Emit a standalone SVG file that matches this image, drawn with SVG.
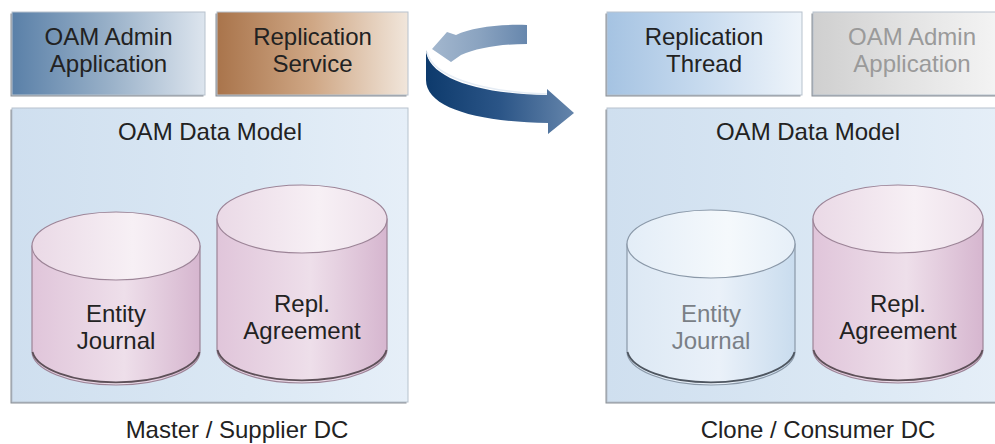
<svg xmlns="http://www.w3.org/2000/svg" width="995" height="444" viewBox="0 0 995 444">
<defs>
<linearGradient id="gAdmin" x1="0" y1="0" x2="1" y2="0"><stop offset="0" stop-color="#5a80a8"/><stop offset="0.5" stop-color="#98b0c8"/><stop offset="1" stop-color="#dde5ee"/></linearGradient>
<linearGradient id="gRepl" x1="0" y1="0" x2="1" y2="0"><stop offset="0" stop-color="#a9744b"/><stop offset="0.5" stop-color="#cfa785"/><stop offset="1" stop-color="#f1e6db"/></linearGradient>
<linearGradient id="gThread" x1="0" y1="0" x2="1" y2="0"><stop offset="0" stop-color="#a5c3e2"/><stop offset="0.5" stop-color="#c8dbef"/><stop offset="1" stop-color="#eef4fa"/></linearGradient>
<linearGradient id="gGray" x1="0" y1="0" x2="1" y2="0"><stop offset="0" stop-color="#cfcfcf"/><stop offset="0.5" stop-color="#e4e4e4"/><stop offset="1" stop-color="#f6f6f6"/></linearGradient>
<linearGradient id="gModel" x1="0" y1="0" x2="1" y2="0"><stop offset="0" stop-color="#cfdfef"/><stop offset="0.6" stop-color="#dbe8f4"/><stop offset="1" stop-color="#e6eff8"/></linearGradient>
<linearGradient id="gPinkBody" x1="0" y1="0" x2="1" y2="0"><stop offset="0" stop-color="#e0c5da"/><stop offset="0.55" stop-color="#eedfea"/><stop offset="1" stop-color="#d6b6cf"/></linearGradient>
<linearGradient id="gPinkTop" x1="0" y1="0" x2="1" y2="0"><stop offset="0" stop-color="#ead9e6"/><stop offset="0.6" stop-color="#f7f0f5"/><stop offset="1" stop-color="#eddfea"/></linearGradient>
<linearGradient id="gBlueBody" x1="0" y1="0" x2="1" y2="0"><stop offset="0" stop-color="#dce8f4"/><stop offset="0.55" stop-color="#eaf1f9"/><stop offset="1" stop-color="#c9dcee"/></linearGradient>
<linearGradient id="gBlueTop" x1="0" y1="0" x2="1" y2="0"><stop offset="0" stop-color="#e3edf7"/><stop offset="0.6" stop-color="#f5f9fc"/><stop offset="1" stop-color="#e6eff8"/></linearGradient>
<linearGradient id="gArrDark" x1="0" y1="0" x2="1" y2="0"><stop offset="0" stop-color="#0d3a6c"/><stop offset="0.5" stop-color="#2b5587"/><stop offset="1" stop-color="#6585ab"/></linearGradient>
<linearGradient id="gArrLight" x1="0" y1="0" x2="1" y2="0"><stop offset="0" stop-color="#a3b7ce"/><stop offset="0.5" stop-color="#8aa3c0"/><stop offset="1" stop-color="#6787ad"/></linearGradient>
</defs>
<style>
.t{font-family:"Liberation Sans",Arial,sans-serif;font-size:24px;fill:#222;text-anchor:middle}
.tg{fill:#9a9a9a}
.tj{fill:#7a7f86}
.sh{fill:#8a8f95}
.box{stroke:#b7c2cd;stroke-width:1}
.cylP{stroke:#9c8497;stroke-width:1.2}
.cylB{stroke:#8a98a8;stroke-width:1.2}
.base{fill:none;stroke:#5d5058;stroke-width:1.8}
</style>

<g id="arrow">
<path d="M527,25 C500,24 472,27 456,35 L447,32 L432,49 L451,62 L461,55 C477,48 500,44 527,44 Z" fill="url(#gArrLight)"/>
<path d="M426,50 C428,78 478,94 547,95 L547,89 L574,113 L548,134 L548,123 C478,122 426,108 426,80 Z" fill="url(#gArrDark)"/>
<path d="M427,52 C432,76 480,92 547,94" fill="none" stroke="#e6edf5" stroke-width="1.5"/>
</g>

<g id="admin-left">
<rect x="10.5" y="13.5" width="193" height="83" class="sh"/>
<rect x="12" y="12" width="193" height="83" fill="url(#gAdmin)" class="box"/>
<text class="t" x="108.5" y="45">OAM Admin</text>
<text class="t" x="108.5" y="72">Application</text>
</g>
<g id="replication-service">
<rect x="215.5" y="13.5" width="191" height="83" class="sh"/>
<rect x="217" y="12" width="191" height="83" fill="url(#gRepl)" class="box"/>
<text class="t" x="312.5" y="45">Replication</text>
<text class="t" x="312.5" y="72">Service</text>
</g>
<g id="model-left">
<rect x="10.5" y="109.5" width="396" height="294" class="sh"/>
<rect x="12" y="108" width="396" height="294" fill="url(#gModel)" class="box"/>
<text class="t" x="210" y="140">OAM Data Model</text>
</g>
<g id="entity-journal-left">
<path d="M32,246 L32,351 A84,34 0 0 0 200,351 L200,246 Z" fill="url(#gPinkBody)" class="cylP"/>
<path d="M32.5,352 A84,34 0 0 0 199.5,352" class="base"/>
<ellipse cx="116" cy="246" rx="84" ry="34" fill="url(#gPinkTop)" class="cylP"/>
<text class="t" x="116" y="322">Entity</text>
<text class="t" x="116" y="349">Journal</text>
</g>
<g id="repl-agreement-left">
<path d="M217,219 L217,349 A85,34 0 0 0 387,349 L387,219 Z" fill="url(#gPinkBody)" class="cylP"/>
<path d="M217.5,350 A85,34 0 0 0 386.5,350" class="base"/>
<ellipse cx="302" cy="219" rx="85" ry="34" fill="url(#gPinkTop)" class="cylP"/>
<text class="t" x="302" y="312">Repl.</text>
<text class="t" x="302" y="339">Agreement</text>
</g>
<text class="t" x="237" y="438">Master / Supplier DC</text>

<g id="replication-thread">
<rect x="605.5" y="13.5" width="195" height="83" class="sh"/>
<rect x="607" y="12" width="195" height="83" fill="url(#gThread)" class="box"/>
<text class="t" x="704" y="45">Replication</text>
<text class="t" x="704" y="72">Thread</text>
</g>
<g id="admin-right">
<rect x="811.5" y="13.5" width="198" height="83" class="sh"/>
<rect x="813" y="12" width="198" height="83" fill="url(#gGray)" class="box"/>
<text class="t tg" x="912" y="45">OAM Admin</text>
<text class="t tg" x="912" y="72">Application</text>
</g>
<g id="model-right">
<rect x="605.5" y="109.5" width="402" height="294" class="sh"/>
<rect x="607" y="108" width="402" height="294" fill="url(#gModel)" class="box"/>
<text class="t" x="808" y="140">OAM Data Model</text>
</g>
<g id="entity-journal-right">
<path d="M627,244 L627,351 A84,34 0 0 0 795,351 L795,244 Z" fill="url(#gBlueBody)" class="cylB"/>
<path d="M627.5,352 A84,34 0 0 0 794.5,352" class="base" style="stroke:#4e5660"/>
<ellipse cx="711" cy="244" rx="84" ry="34" fill="url(#gBlueTop)" class="cylB"/>
<text class="t tj" x="711" y="322">Entity</text>
<text class="t tj" x="711" y="349">Journal</text>
</g>
<g id="repl-agreement-right">
<path d="M813,219 L813,349 A85,34 0 0 0 983,349 L983,219 Z" fill="url(#gPinkBody)" class="cylP"/>
<path d="M813.5,350 A85,34 0 0 0 982.5,350" class="base"/>
<ellipse cx="898" cy="219" rx="85" ry="34" fill="url(#gPinkTop)" class="cylP"/>
<text class="t" x="898" y="312">Repl.</text>
<text class="t" x="898" y="339">Agreement</text>
</g>
<text class="t" x="818" y="438">Clone / Consumer DC</text>
</svg>
